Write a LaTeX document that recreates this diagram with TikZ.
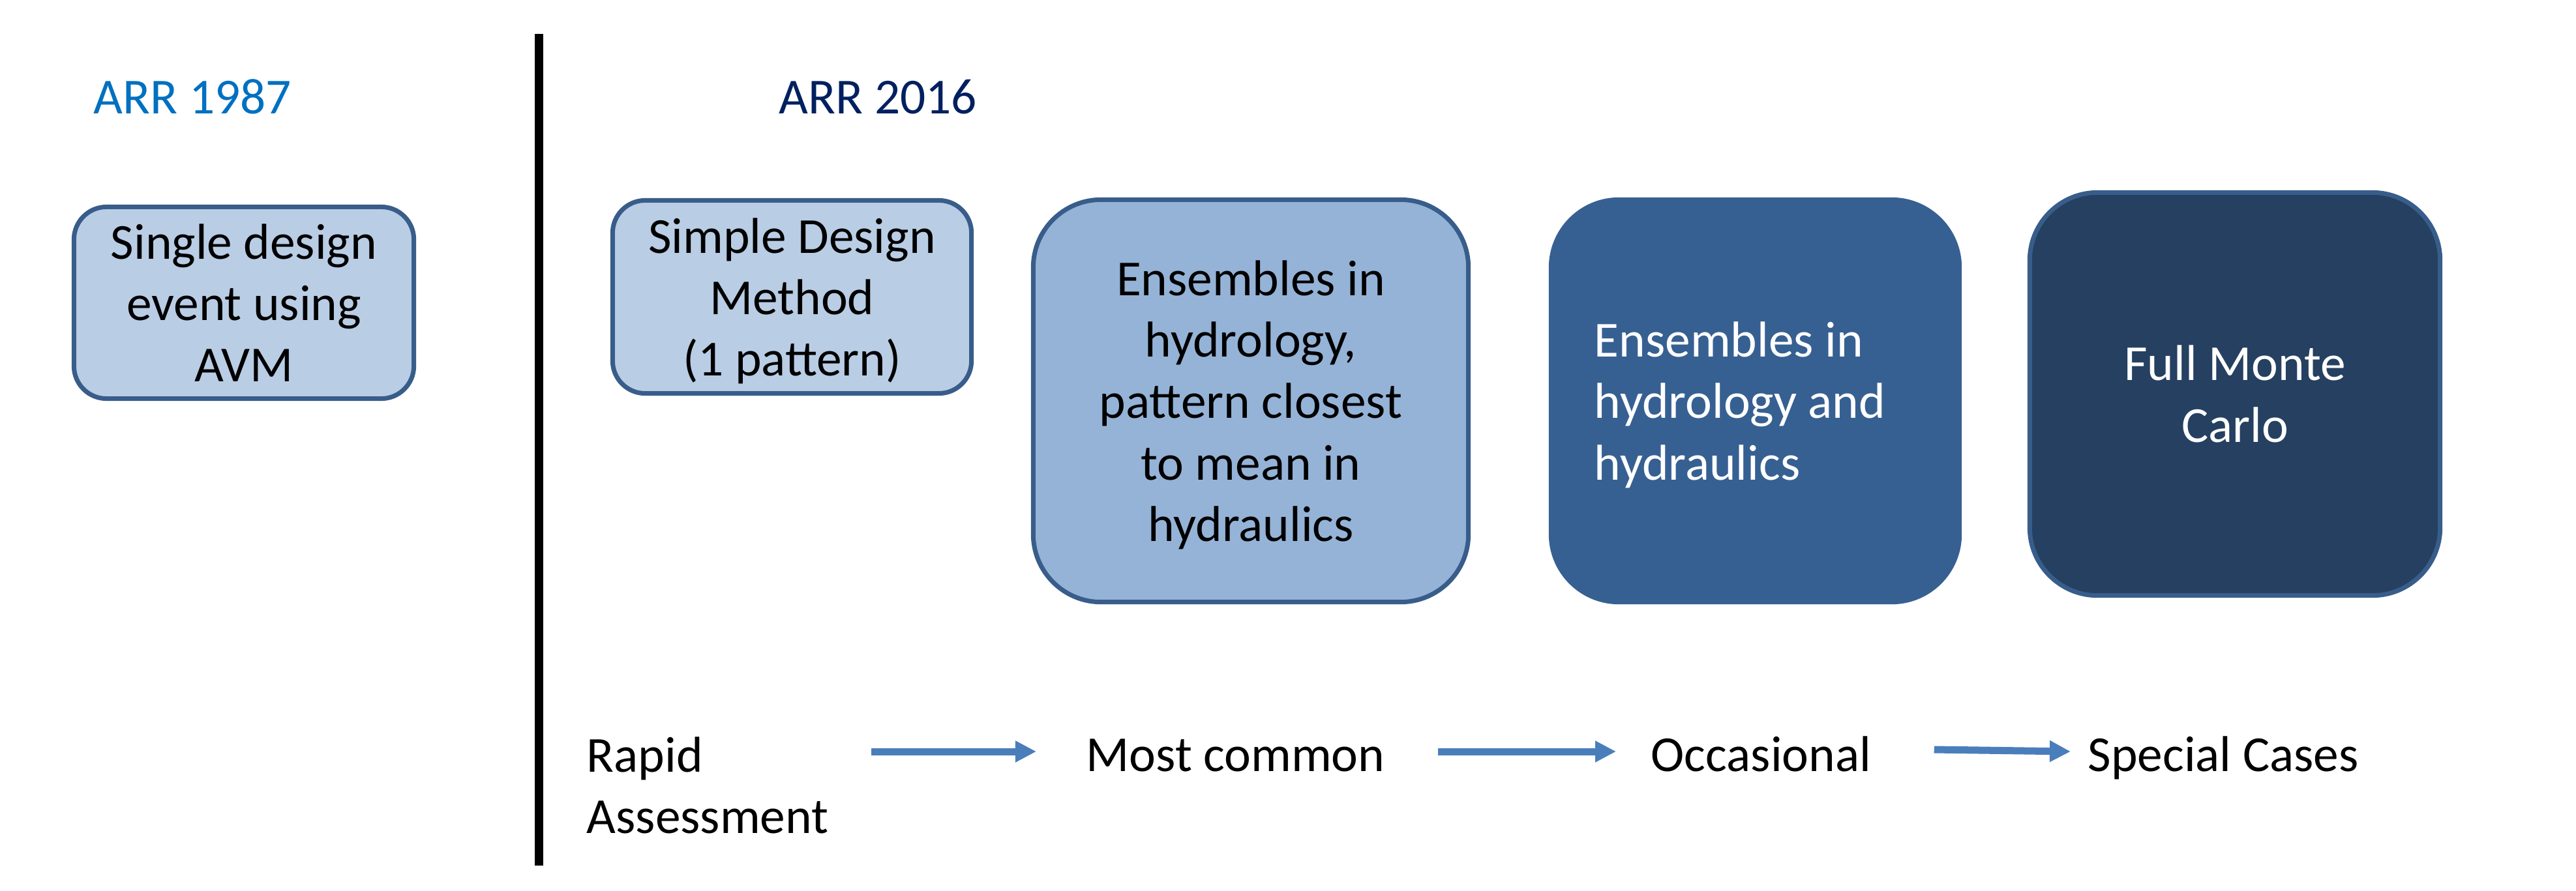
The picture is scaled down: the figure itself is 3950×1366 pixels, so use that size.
\documentclass[tikz,border=0pt]{standalone}
\usepackage{fontspec}
\setmainfont{Carlito}
\usepackage{tikz}
\usetikzlibrary{arrows.meta, calc}
\definecolor{oldblue}{RGB}{0, 112, 192}
\definecolor{newnavy}{RGB}{0, 32, 96}
\definecolor{paleblue}{RGB}{185, 205, 229}
\definecolor{midblue}{RGB}{149, 179, 215}
\definecolor{deepblue}{RGB}{55, 96, 146}
\definecolor{darknavy}{RGB}{37, 64, 97}
\definecolor{edgeblue}{RGB}{56, 93, 138}
\definecolor{arrowblue}{RGB}{74, 126, 187}
\newcommand{\slidefont}{\fontsize{22}{26.8}\selectfont}

\begin{document}
\begin{tikzpicture}[x=0.01cm, y=-0.01cm,
  every node/.style={font=\slidefont, inner sep=0pt},
  method/.style={draw=edgeblue, line width=0.07cm, align=center},
  flow/.style={draw=arrowblue, line width=0.11cm, -{Triangle[length=0.32cm, width=0.31cm]}}]
  \useasboundingbox (0,0) rectangle (3950,1366);

  % Headers
  \node[anchor=base west, text=oldblue] (arr87) at (143,174) {ARR 1987};
  \node[anchor=base west, text=newnavy] (arr16) at (1194,174) {ARR 2016};
  \draw[line width=0.13cm] (826.5,52) -- (826.5,1328);

  % Methods
  \node[method, fill=paleblue, rounded corners=0.5cm, minimum width=5.21cm, minimum height=2.94cm] (single) at (374,464.5) {Single design\\event using\\AVM};
  \node[method, fill=paleblue, rounded corners=0.5cm, minimum width=5.50cm, minimum height=2.96cm] (simple) at (1214.5,455.5) {Simple Design\\Method\\\smash{(1 pattern)}};
  \node[method, fill=midblue, rounded corners=1.04cm, minimum width=6.67cm, minimum height=6.17cm] (ensemble) at (1918,615) {Ensembles in\\hydrology,\\pattern closest\\to mean in\\\smash{hydraulics}};
  \node[method, draw=deepblue, fill=deepblue, text=white, align=flush left, rounded corners=1.04cm, text width=4.93cm, inner xsep=0.665cm, minimum height=6.17cm] (both) at (2691.5,615) {Ensembles in\\hydrology and\\\smash{hydraulics}};
  \node[method, fill=darknavy, text=white, rounded corners=1.04cm, minimum width=6.29cm, minimum height=6.18cm] (monte) at (3427,604.5) {Full Monte\\Carlo};

  % Frequency of use
  \node[anchor=north west, align=left] (rapid) at (899,1130) {Rapid\\Assessment};
  \node[anchor=base west] (common) at (1665,1183) {Most common};
  \node[anchor=base west] (occasional) at (2531,1183) {Occasional};
  \node[anchor=base west] (special) at (3201,1183) {Special Cases};

  \draw[flow] ($(rapid.east |- common.base)+(65,-30)$) -- ($(common.base west)+(-76,-30)$);
  \draw[flow] ($(common.base east)+(81,-30)$) -- ($(occasional.base west)+(-53,-30)$);
  \draw[flow] ($(occasional.base east)+(96,-33)$) -- ($(special.base west)+(-26,-30)$);
\end{tikzpicture}
\end{document}
